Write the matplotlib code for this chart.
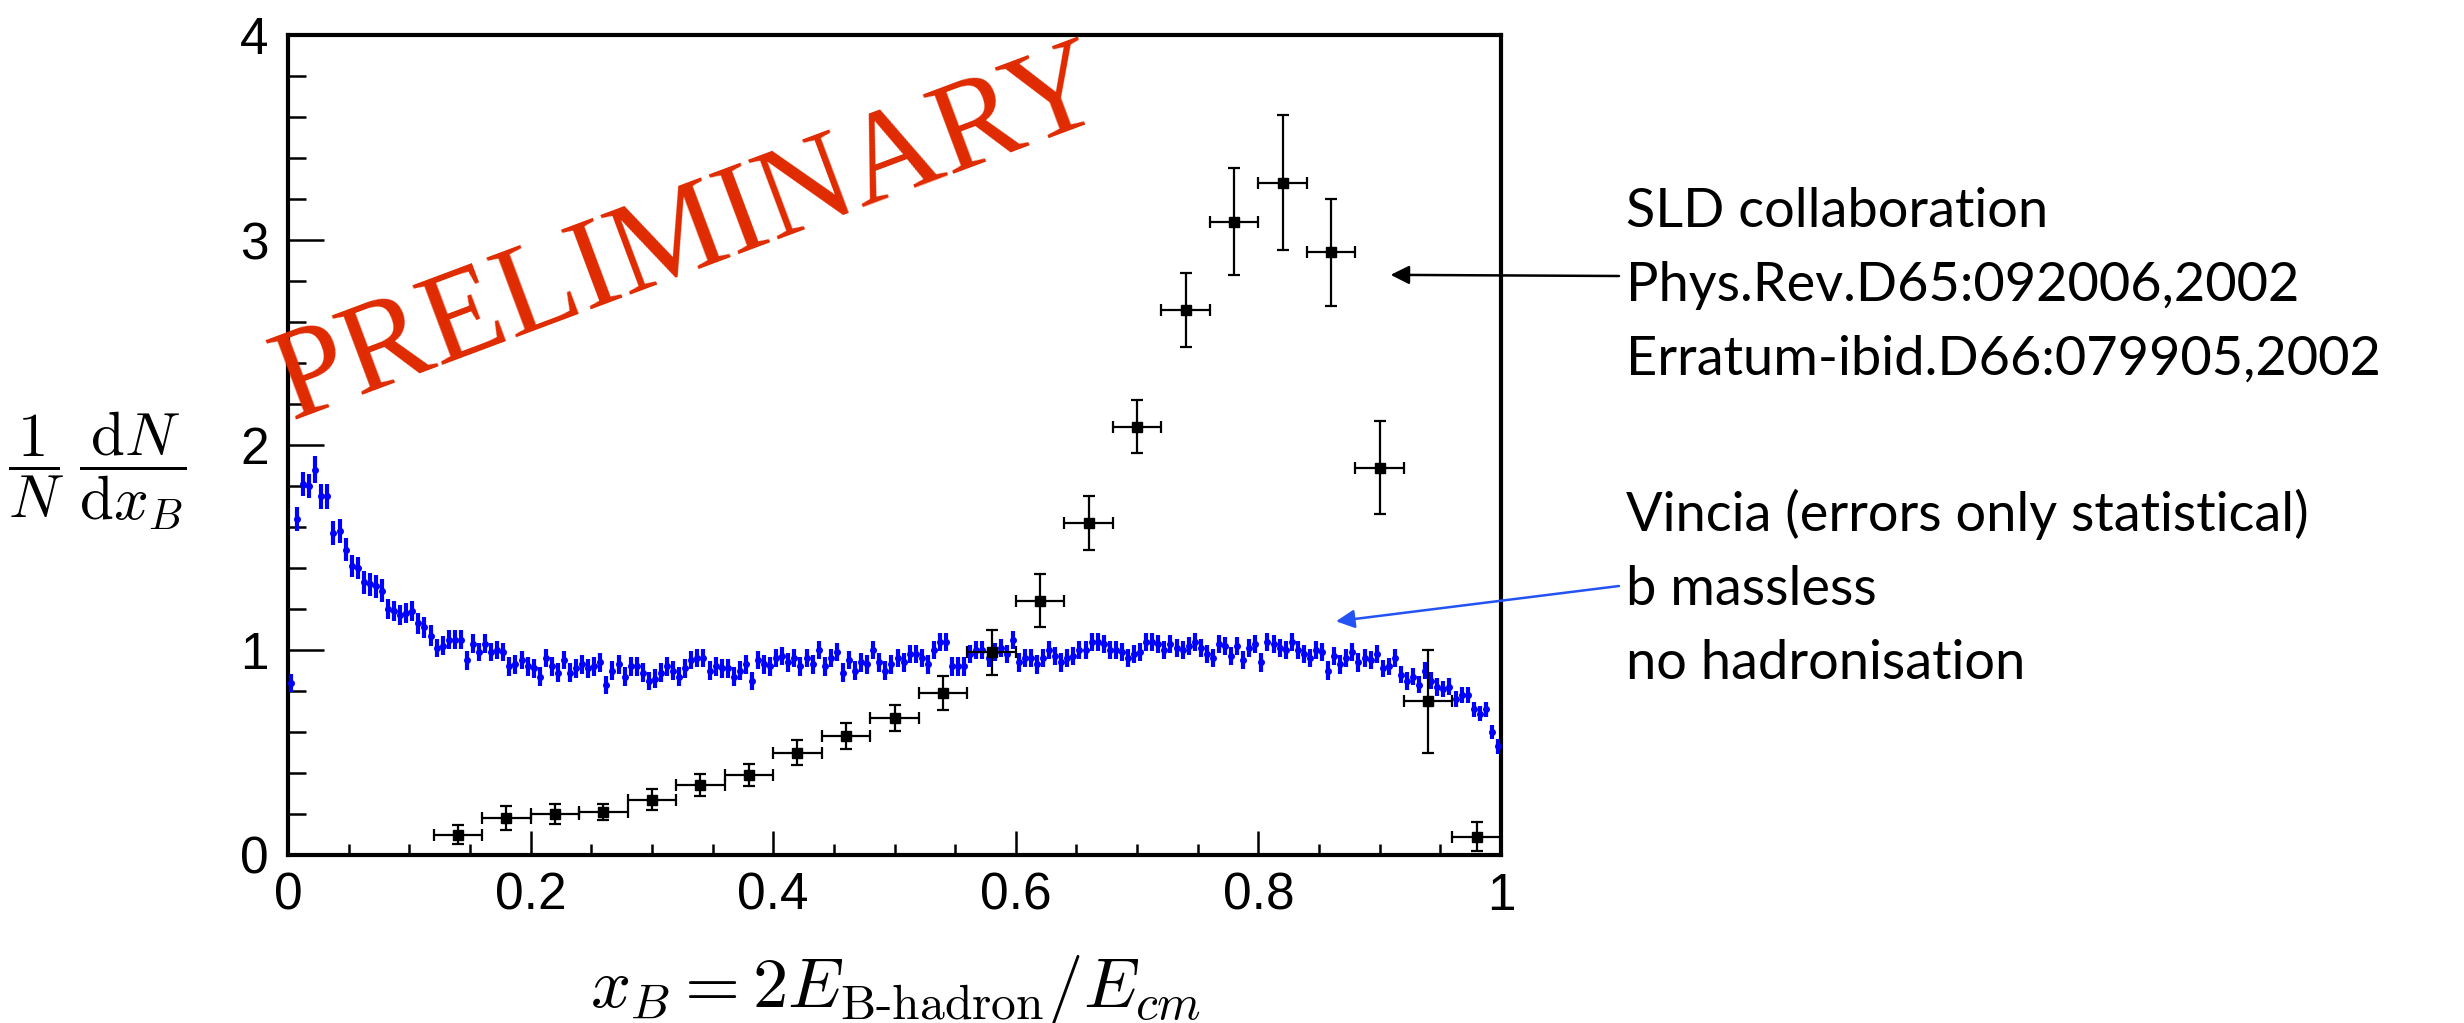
import numpy as np
import matplotlib.pyplot as plt
from matplotlib.ticker import MultipleLocator

plt.rcParams["font.family"] = "Liberation Sans"
plt.rcParams["mathtext.fontset"] = "cm"

# SLD measurement (Phys.Rev.D65:092006)
sld_x = [0.14, 0.18, 0.22, 0.26, 0.30, 0.34, 0.38, 0.42, 0.46, 0.50, 0.54,
         0.58, 0.62, 0.66, 0.70, 0.74, 0.78, 0.82, 0.86, 0.90, 0.94, 0.98]
sld_y = [0.10, 0.18, 0.20, 0.21, 0.27, 0.34, 0.39, 0.50, 0.58, 0.67, 0.79,
         0.99, 1.24, 1.62, 2.09, 2.66, 3.09, 3.28, 2.94, 1.89, 0.75, 0.09]
sld_yerr = [0.045, 0.06, 0.047, 0.04, 0.05, 0.053, 0.053, 0.062, 0.063, 0.064, 0.082,
            0.11, 0.13, 0.13, 0.13, 0.18, 0.26, 0.33, 0.26, 0.225, 0.25, 0.07]
sld_halfwidth = 0.02

# Vincia, 200 bins on [0, 1]
vincia_edges = np.linspace(0.0, 1.0, 201)
vincia_y = [
    0.84, 1.64, 1.81, 1.80, 1.88, 1.75, 1.75, 1.57, 1.58, 1.49,
    1.41, 1.40, 1.33, 1.32, 1.31, 1.29, 1.20, 1.19, 1.17, 1.18,
    1.19, 1.13, 1.11, 1.07, 1.01, 1.02, 1.05, 1.05, 1.05, 0.95,
    1.03, 0.99, 1.03, 0.99, 1.00, 0.99, 0.92, 0.93, 0.95, 0.92,
    0.91, 0.87, 0.96, 0.92, 0.89, 0.95, 0.89, 0.91, 0.93, 0.91,
    0.92, 0.94, 0.83, 0.90, 0.93, 0.87, 0.92, 0.92, 0.89, 0.85,
    0.86, 0.89, 0.92, 0.90, 0.87, 0.91, 0.95, 0.96, 0.96, 0.90,
    0.92, 0.91, 0.91, 0.87, 0.90, 0.93, 0.85, 0.95, 0.93, 0.92,
    0.96, 0.97, 0.94, 0.96, 0.92, 0.96, 0.93, 1.00, 0.92, 0.96,
    0.99, 0.89, 0.95, 0.90, 0.94, 0.93, 1.00, 0.94, 0.90, 0.93,
    0.96, 0.94, 0.98, 0.98, 0.96, 0.93, 1.00, 1.04, 1.04, 0.92,
    0.92, 0.92, 0.98, 1.00, 1.00, 0.96, 0.99, 1.01, 0.98, 1.05,
    0.94, 0.96, 0.96, 0.93, 0.96, 1.00, 0.97, 0.94, 0.96, 0.97,
    1.00, 1.00, 1.04, 1.04, 1.03, 1.00, 1.00, 0.99, 0.96, 0.98,
    0.99, 1.04, 1.04, 1.03, 1.00, 1.03, 1.01, 1.00, 1.02, 1.04,
    1.01, 0.98, 0.96, 1.03, 1.02, 0.97, 1.02, 0.95, 1.01, 1.03,
    0.94, 1.04, 1.03, 1.01, 1.00, 1.04, 1.00, 0.98, 0.96, 1.00,
    0.99, 0.90, 0.97, 0.93, 0.96, 0.99, 0.94, 0.96, 0.95, 0.98,
    0.91, 0.92, 0.96, 0.88, 0.85, 0.87, 0.83, 0.90, 0.85, 0.82,
    0.81, 0.82, 0.76, 0.78, 0.78, 0.71, 0.69, 0.71, 0.60, 0.53,
]
vincia_err = [
    0.045, 0.06, 0.06, 0.06, 0.065, 0.06, 0.06, 0.06, 0.06, 0.055,
    0.055, 0.055, 0.055, 0.055, 0.055, 0.055, 0.05, 0.05, 0.05, 0.05,
    0.05, 0.05, 0.05, 0.05, 0.046, 0.046, 0.046, 0.046, 0.046, 0.046,
    0.046, 0.046, 0.046, 0.046, 0.046, 0.045, 0.045, 0.045, 0.045, 0.045,
    0.045, 0.045, 0.045, 0.045, 0.045, 0.045, 0.045, 0.045, 0.045, 0.045,
    0.045, 0.045, 0.045, 0.045, 0.045, 0.045, 0.045, 0.045, 0.045, 0.045,
    0.045, 0.045, 0.045, 0.045, 0.045, 0.045, 0.045, 0.045, 0.045, 0.045,
    0.045, 0.045, 0.045, 0.045, 0.045, 0.045, 0.045, 0.045, 0.045, 0.045,
    0.045, 0.045, 0.045, 0.045, 0.045, 0.045, 0.045, 0.045, 0.045, 0.045,
    0.045, 0.045, 0.045, 0.045, 0.045, 0.045, 0.045, 0.045, 0.045, 0.045,
    0.045, 0.045, 0.045, 0.045, 0.045, 0.045, 0.045, 0.045, 0.045, 0.045,
    0.045, 0.045, 0.045, 0.045, 0.045, 0.045, 0.045, 0.045, 0.045, 0.045,
    0.045, 0.045, 0.045, 0.045, 0.045, 0.045, 0.045, 0.045, 0.045, 0.045,
    0.045, 0.045, 0.045, 0.045, 0.045, 0.045, 0.045, 0.045, 0.045, 0.045,
    0.045, 0.045, 0.045, 0.045, 0.045, 0.045, 0.045, 0.045, 0.045, 0.045,
    0.045, 0.045, 0.045, 0.045, 0.045, 0.045, 0.045, 0.045, 0.045, 0.045,
    0.045, 0.045, 0.045, 0.045, 0.045, 0.045, 0.045, 0.045, 0.045, 0.045,
    0.045, 0.045, 0.045, 0.045, 0.045, 0.045, 0.045, 0.045, 0.045, 0.045,
    0.043, 0.043, 0.043, 0.043, 0.043, 0.043, 0.042, 0.042, 0.042, 0.042,
    0.041, 0.041, 0.04, 0.04, 0.04, 0.038, 0.038, 0.038, 0.034, 0.036,
]

sld_label = ["SLD collaboration", "Phys.Rev.D65:092006,2002", "Erratum-ibid.D66:079905,2002"]
vincia_label = ["Vincia (errors only statistical)", "b massless", "no hadronisation"]

W, H = 2464, 1023
fig = plt.figure(figsize=(W / 100, H / 100), dpi=100)
ax = fig.add_axes([288 / W, 1 - 855 / H, (1501 - 288) / W, (855 - 35) / H])

vincia_x = 0.5 * (vincia_edges[:-1] + vincia_edges[1:])
ax.errorbar(vincia_x, vincia_y, yerr=vincia_err, fmt="o", color="#0000ff",
            ms=4, elinewidth=3, capsize=0, zorder=3)
ax.errorbar(sld_x, sld_y, yerr=sld_yerr, xerr=sld_halfwidth, fmt="s", color="black",
            ms=7, elinewidth=1.6, capsize=4.5, capthick=1.6, zorder=4)

ax.set_xlim(0, 1)
ax.set_ylim(0, 4)
ax.xaxis.set_minor_locator(MultipleLocator(0.05))
ax.yaxis.set_minor_locator(MultipleLocator(0.2))
ax.set_xticks([0, 0.2, 0.4, 0.6, 0.8, 1.0])
ax.set_xticklabels(["0", "0.2", "0.4", "0.6", "0.8", "1"])
ax.set_yticks([0, 1, 2, 3, 4])
ax.set_yticklabels(["0", "1", "2", "3", "4"])
ax.tick_params(axis="both", which="both", direction="in", width=1.8, labelsize=37,
               top=False, right=False)
ax.tick_params(axis="x", which="major", length=17, pad=12)
ax.tick_params(axis="x", which="minor", length=8)
ax.tick_params(axis="y", which="major", length=26, pad=14)
ax.tick_params(axis="y", which="minor", length=13)
for s in ax.spines.values():
    s.set_linewidth(3)

fig.text(896 / W, 1 - 990 / H, r"$x_B = 2E_{\text{B-hadron}}/E_{cm}$",
         ha="center", va="center", fontsize=51)
fig.text(8 / W, 1 - 471 / H, r"$\dfrac{1}{N}\;\dfrac{\mathrm{d}N}{\mathrm{d}x_B}$",
         ha="left", va="center", fontsize=44)

# watermark
fig.text(690 / W, 1 - 238 / H, "PRELIMINARY", family="Liberation Serif",
         color="#e02a00", fontsize=93, rotation=20.5, rotation_mode="anchor",
         ha="center", va="center")

# annotations
for i, line in enumerate(sld_label):
    fig.text(1626 / W, 1 - (227 + 74 * i) / H, line, family="Lato",
             fontsize=39, ha="left", va="baseline")
for i, line in enumerate(vincia_label):
    fig.text(1626 / W, 1 - (531 + 74 * i) / H, line, family="Lato",
             fontsize=39, ha="left", va="baseline")

ax.annotate("", xy=(0.909, 2.83), xycoords="data",
            xytext=(1619 / W, 1 - 276 / H), textcoords="figure fraction",
            arrowprops=dict(arrowstyle="-|>", color="black", lw=1.8,
                            mutation_scale=28, shrinkA=0, shrinkB=0))
ax.annotate("", xy=(0.864, 1.14), xycoords="data",
            xytext=(1619 / W, 1 - 586 / H), textcoords="figure fraction",
            arrowprops=dict(arrowstyle="-|>", color="#2352f5", lw=1.8,
                            mutation_scale=28, shrinkA=0, shrinkB=0))

fig.savefig("out.png", dpi=100)
